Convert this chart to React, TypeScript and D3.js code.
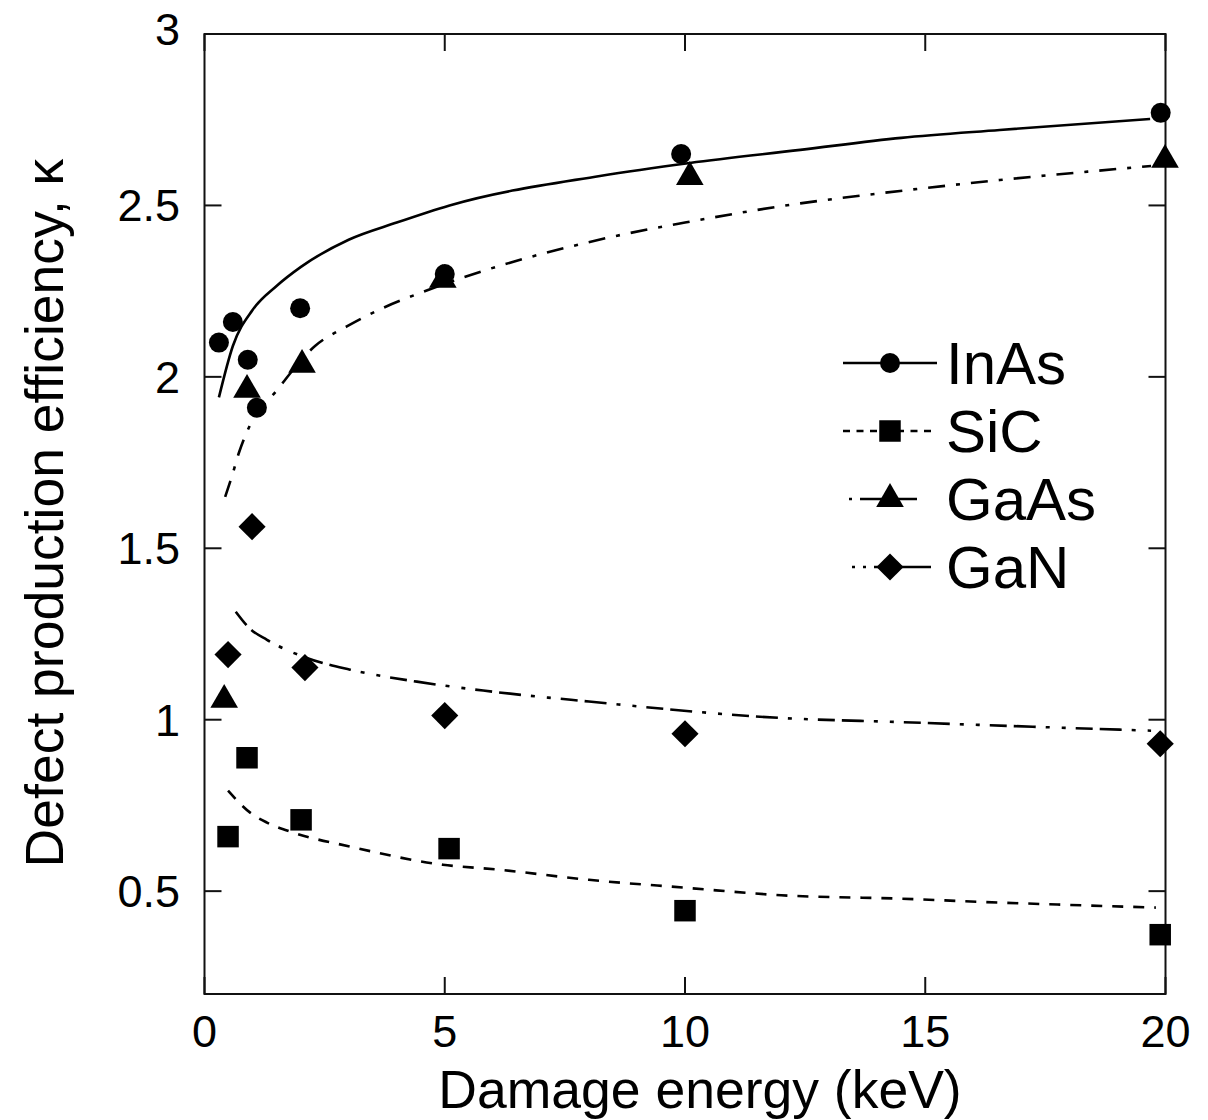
import React from "react";
import * as d3 from "d3";

// ---- data ----
const seriesNames = ["InAs", "SiC", "GaAs", "GaN"];

const inAsX = [0.3, 0.59, 0.9, 1.09, 1.99, 5.0, 9.92, 19.9];
const inAsY = [2.10, 2.16, 2.05, 1.91, 2.20, 2.30, 2.65, 2.77];

const siCX = [0.49, 0.885, 2.01, 5.09, 10.0, 19.89];
const siCY = [0.659, 0.889, 0.708, 0.624, 0.443, 0.373];

const gaAsX = [0.41, 0.885, 2.03, 4.96, 10.1, 19.99];
const gaAsY = [1.058, 1.962, 2.035, 2.283, 2.583, 2.633];

const gaNX = [0.49, 0.99, 2.09, 5.0, 10.0, 19.89];
const gaNY = [1.19, 1.563, 1.152, 1.012, 0.959, 0.93];

// fitted curves
const inAsFitX = [0.3, 0.59, 1.0, 1.5, 2.0, 3.0, 4.0, 5.1, 8.23, 10.1, 12.4, 14.5, 16.55, 19.68];
const inAsFitY = [1.94, 2.09, 2.195, 2.265, 2.32, 2.40, 2.45, 2.50, 2.586, 2.624, 2.662, 2.697, 2.72, 2.752];

const siCFitX = [0.49, 0.95, 1.3, 1.84, 3.03, 4.96, 6.1, 8.0, 10.0, 12.0, 14.5, 16.1, 19.8];
const siCFitY = [0.793, 0.729, 0.70, 0.671, 0.63, 0.577, 0.563, 0.533, 0.51, 0.488, 0.478, 0.469, 0.452];

const gaAsFitX = [0.43, 0.57, 0.72, 0.95, 1.5, 2.3, 3.0, 3.7, 4.55, 8.37, 10.0, 12.4, 13.8, 16.55, 19.7];
const gaAsFitY = [1.65, 1.71, 1.78, 1.86, 1.96, 2.09, 2.15, 2.20, 2.248, 2.405, 2.45, 2.506, 2.531, 2.574, 2.615];

const gaNFitX = [0.65, 0.95, 1.3, 2.13, 3.03, 4.42, 5.8, 8.0, 12.0, 14.5, 16.1, 19.7];
const gaNFitY = [1.315, 1.265, 1.233, 1.18, 1.146, 1.111, 1.085, 1.053, 1.005, 0.993, 0.985, 0.968];

const xTicks = [0, 5, 10, 15, 20];
const yTicks = [0.5, 1, 1.5, 2, 2.5, 3];
const xTickLabels = ["0", "5", "10", "15", "20"];
const yTickLabels = ["0.5", "1", "1.5", "2", "2.5", "3"];

const xTitle = "Damage energy (keV)";
const yTitle = "Defect production efficiency, \u03BA";

// ---- layout ----
const W = 1208;
const H = 1120;
const left = 204.5;
const right = 1165.5;
const top = 34;
const bottom = 994;
const FONT = "'Liberation Sans', Arial, Helvetica, sans-serif";

const x = d3.scaleLinear().domain([0, 20]).range([left, right]);
const y = d3.scaleLinear().domain([0.2, 3]).range([bottom, top]);

const zip = (xs: number[], ys: number[]) => xs.map((v, i) => [v, ys[i]] as [number, number]);

const line = d3
  .line<[number, number]>()
  .x((d) => x(d[0]))
  .y((d) => y(d[1]))
  .curve(d3.curveMonotoneX);

const symCircle = d3.symbol().type(d3.symbolCircle).size(Math.PI * 10 * 10)();
const symSquare = d3.symbol().type(d3.symbolSquare).size(21.5 * 21.5)();
const symTriangle = d3.symbol().type(d3.symbolTriangle).size(330)();
const symDiamond = d3.symbol().type(d3.symbolSquare).size(19.2 * 19.2)();

type Series = {
  name: string;
  xs: number[];
  ys: number[];
  fx: number[];
  fy: number[];
  path: string;
  rotate: number;
  dash: string;
  legendDash: string;
  legendX0: number;
  legendX1: number;
};

const series: Series[] = [
  { name: seriesNames[0], xs: inAsX, ys: inAsY, fx: inAsFitX, fy: inAsFitY, path: symCircle!, rotate: 0, dash: "none", legendDash: "none", legendX0: 843, legendX1: 937 },
  { name: seriesNames[1], xs: siCX, ys: siCY, fx: siCFitX, fy: siCFitY, path: symSquare!, rotate: 0, dash: "11,10", legendDash: "7,6.5", legendX0: 843, legendX1: 937 },
  { name: seriesNames[2], xs: gaAsX, ys: gaAsY, fx: gaAsFitX, fy: gaAsFitY, path: symTriangle!, rotate: 0, dash: "17,11,4,11", legendDash: "3,8,60", legendX0: 849, legendX1: 917 },
  { name: seriesNames[3], xs: gaNX, ys: gaNY, fx: gaNFitX, fy: gaNFitY, path: symDiamond!, rotate: 45, dash: "17,7,22,10,4,12,4,10", legendDash: "3,8,3,8,80", legendX0: 852, legendX1: 931 },
];

const legendY0 = 363;
const legendStep = 68;
const legendMarkerX = 890;

export default function App() {
  return (
    <svg
      width={W}
      height={H}
      viewBox={`0 0 ${W} ${H}`}
      style={{ position: "absolute", left: 0, top: 0, background: "#fff" }}
      fontFamily={FONT}
    >
      <rect x={0} y={0} width={W} height={H} fill="#fff" />

      {/* fitted curves */}
      {series.map((s) => (
        <path
          key={"fit-" + s.name}
          d={line(zip(s.fx, s.fy)) || ""}
          fill="none"
          stroke="#000"
          strokeWidth={2.6}
          strokeDasharray={s.dash}
        />
      ))}

      {/* frame */}
      <rect x={left} y={top} width={right - left} height={bottom - top} fill="none" stroke="#111" strokeWidth={2} />

      {/* ticks */}
      {xTicks.map((t, i) => (
        <g key={"xt" + i}>
          <line x1={x(t)} x2={x(t)} y1={bottom} y2={bottom - 17} stroke="#111" strokeWidth={2} />
          <line x1={x(t)} x2={x(t)} y1={top} y2={top + 17} stroke="#111" strokeWidth={2} />
          <text x={x(t)} y={1047} fontSize={45} textAnchor="middle" fill="#000">
            {xTickLabels[i]}
          </text>
        </g>
      ))}
      {yTicks.map((t, i) => (
        <g key={"yt" + i}>
          <line x1={left} x2={left + 17} y1={y(t)} y2={y(t)} stroke="#111" strokeWidth={2} />
          <line x1={right} x2={right - 17} y1={y(t)} y2={y(t)} stroke="#111" strokeWidth={2} />
          <text x={180} y={y(t) + 16 - (t === 3 ? 5 : 0)} fontSize={45} textAnchor="end" fill="#000">
            {yTickLabels[i]}
          </text>
        </g>
      ))}

      {/* markers */}
      {series.map((s) =>
        s.xs.map((xv, i) => (
          <path
            key={s.name + i}
            d={s.path}
            transform={`translate(${x(xv)},${y(s.ys[i])}) rotate(${s.rotate})`}
            fill="#000"
          />
        ))
      )}

      {/* legend */}
      {series.map((s, i) => {
        const ly = legendY0 + i * legendStep;
        return (
          <g key={"leg" + s.name}>
            <line x1={s.legendX0} x2={s.legendX1} y1={ly} y2={ly} stroke="#000" strokeWidth={2.6} strokeDasharray={s.legendDash} />
            <path d={s.path} transform={`translate(${legendMarkerX},${ly}) rotate(${s.rotate})`} fill="#000" />
            <text x={946} y={ly + 21} fontSize={60} fill="#000">
              {s.name}
            </text>
          </g>
        );
      })}

      {/* axis titles */}
      <text x={700} y={1108} fontSize={53.5} textAnchor="middle" fill="#000">
        {xTitle}
      </text>
      <text transform={`translate(63,513) rotate(-90)`} fontSize={53.5} textAnchor="middle" fill="#000">
        {yTitle}
      </text>
    </svg>
  );
}
